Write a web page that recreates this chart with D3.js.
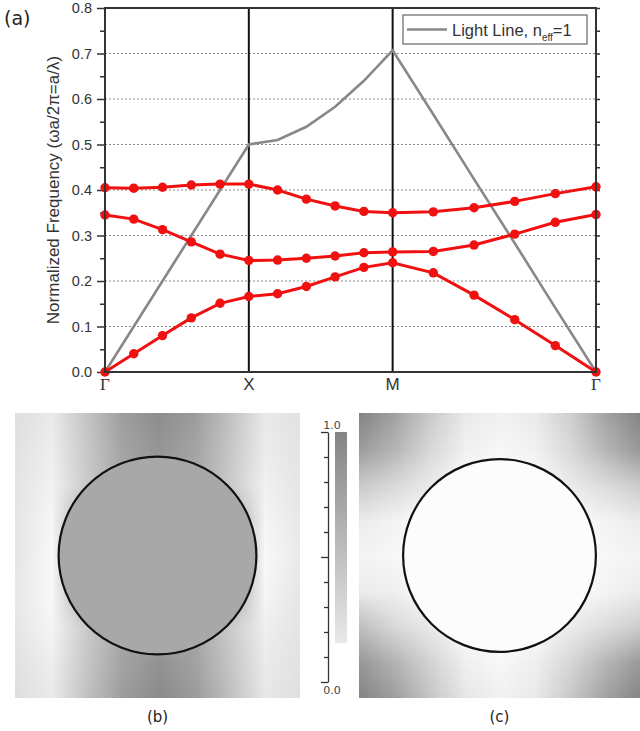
<!DOCTYPE html>
<html>
<head>
<meta charset="utf-8">
<script src="https://cdn.jsdelivr.net/npm/d3@7"></script>
<style>
  body { margin: 0; background: #fff; }
  svg { display: block; }
</style>
</head>
<body>
<svg id="fig" width="640" height="731"></svg>
<script>
// k-path positions (Γ -> X -> M -> Γ) and the computed bands
const kPos = [0, 0.2, 0.4, 0.6, 0.8, 1, 1.2, 1.4, 1.6, 1.8, 2, 2.283, 2.566, 2.849, 3.131, 3.414];
const band1 = [0, 0.040, 0.080, 0.119, 0.151, 0.166, 0.172, 0.188, 0.209, 0.230, 0.240, 0.218, 0.169, 0.115, 0.058, 0];
const band2 = [0.345, 0.336, 0.313, 0.286, 0.259, 0.245, 0.246, 0.250, 0.255, 0.262, 0.264, 0.265, 0.279, 0.303, 0.329, 0.346];
const band3 = [0.405, 0.404, 0.406, 0.411, 0.413, 0.413, 0.400, 0.380, 0.365, 0.353, 0.350, 0.352, 0.361, 0.375, 0.392, 0.407];
const lightLine = [0, 0.1, 0.2, 0.3, 0.4, 0.5, 0.51, 0.539, 0.583, 0.640, 0.707, 0.566, 0.424, 0.283, 0.141, 0];
const symPos = [0, 1, 2, 3.414];
const symLabels = ["Γ", "X", "M", "Γ"];
const yTicks = [0, 0.1, 0.2, 0.3, 0.4, 0.5, 0.6, 0.7, 0.8];
const gridTicks = [0.1, 0.2, 0.3, 0.4, 0.5, 0.6, 0.7];

// field intensity maps, 9x9 samples over the unit cell (row = top to bottom)
const fieldB = [
  [0.24, 0.15, 0.47, 0.78, 0.92, 0.80, 0.49, 0.15, 0.22],
  [0.22, 0.12, 0.43, 0.73, 0.86, 0.74, 0.45, 0.13, 0.20],
  [0.20, 0.08, 0.42, 0.72, 0.72, 0.72, 0.42, 0.09, 0.19],
  [0.18, 0.05, 0.75, 0.72, 0.72, 0.72, 0.75, 0.06, 0.17],
  [0.18, 0.03, 0.75, 0.72, 0.72, 0.72, 0.75, 0.03, 0.15],
  [0.16, 0.03, 0.75, 0.72, 0.72, 0.72, 0.75, 0.05, 0.18],
  [0.18, 0.06, 0.42, 0.72, 0.72, 0.72, 0.42, 0.11, 0.20],
  [0.22, 0.12, 0.45, 0.74, 0.88, 0.76, 0.46, 0.14, 0.22],
  [0.25, 0.15, 0.49, 0.80, 0.95, 0.82, 0.51, 0.17, 0.24]
];
const fieldC = [
  [1.00, 0.75, 0.42, 0.16, 0.09, 0.15, 0.38, 0.74, 1.00],
  [0.80, 0.58, 0.30, 0.09, 0.03, 0.09, 0.29, 0.58, 0.84],
  [0.42, 0.29, 0.14, 0.00, 0.00, 0.00, 0.14, 0.27, 0.42],
  [0.14, 0.07, 0.00, 0.00, 0.00, 0.00, 0.00, 0.07, 0.14],
  [0.07, 0.03, 0.00, 0.00, 0.00, 0.00, 0.00, 0.03, 0.07],
  [0.14, 0.10, 0.00, 0.00, 0.00, 0.00, 0.00, 0.07, 0.14],
  [0.52, 0.30, 0.16, 0.00, 0.00, 0.00, 0.14, 0.27, 0.40],
  [0.84, 0.61, 0.34, 0.11, 0.03, 0.11, 0.32, 0.58, 0.83],
  [1.00, 0.78, 0.46, 0.18, 0.09, 0.16, 0.43, 0.76, 1.00]
];
const coreB = 0.70, coreC = 0.0;
const radiusB = 0.347, radiusC = 0.343;
const barTicks = [0, 0.1, 0.2, 0.3, 0.4, 0.5, 0.6, 0.7, 0.8, 0.9, 1.0];
const barRange = [0.155, 1.0];

const svg = d3.select("#fig");

// ---------- (a) band diagram ----------
const x = d3.scaleLinear().domain([0, 3.414]).range([105, 596]);
const y = d3.scaleLinear().domain([0, 0.8]).range([372, 8]);

svg.append("text").attr("x", 4).attr("y", 25)
  .attr("font-family", "DejaVu Sans").attr("font-size", 19).attr("fill", "#222")
  .text("(a)");

// dotted grid
svg.append("g").selectAll("line").data(gridTicks).enter().append("line")
  .attr("x1", x(0)).attr("x2", x(3.414))
  .attr("y1", d => y(d)).attr("y2", d => y(d))
  .attr("stroke", "#888").attr("stroke-width", 1).attr("stroke-dasharray", "2,2");

// left axis
const yLeft = d3.axisLeft(y).tickValues(yTicks).tickFormat(d3.format(".1f")).tickSize(8).tickPadding(5);
const gl = svg.append("g").attr("transform", `translate(${x(0)},0)`).call(yLeft);
gl.select(".domain").remove();
gl.selectAll("line").attr("stroke", "#333").attr("stroke-width", 1.5);
gl.selectAll("text").attr("font-family", "Liberation Sans, Arial").attr("font-size", 14.5).attr("fill", "#333");
const minor = d3.range(0.05, 0.8, 0.1);
svg.append("g").attr("transform", `translate(${x(0)},0)`)
  .call(d3.axisLeft(y).tickValues(minor).tickFormat("").tickSize(5))
  .call(g => g.select(".domain").remove())
  .selectAll("line").attr("stroke", "#333").attr("stroke-width", 1.5);

// right axis ticks
svg.append("g").attr("transform", `translate(${x(3.414)},0)`)
  .call(d3.axisRight(y).tickValues(yTicks.concat(minor)).tickFormat("").tickSize(4))
  .call(g => g.select(".domain").remove())
  .selectAll("line").attr("stroke", "#333").attr("stroke-width", 1.5);

// y label
svg.append("text")
  .attr("transform", `translate(59,${(y(0) + y(0.8)) / 2}) rotate(-90)`)
  .attr("text-anchor", "middle")
  .attr("font-family", "Liberation Sans, Arial").attr("font-size", 17).attr("fill", "#333")
  .text("Normalized Frequency (ωa/2π=a/λ)");

// symmetry point lines
svg.append("g").selectAll("line").data(symPos.slice(1, 3)).enter().append("line")
  .attr("x1", d => x(d)).attr("x2", d => x(d)).attr("y1", y(0.8)).attr("y2", y(0))
  .attr("stroke", "#111").attr("stroke-width", 2);

// light line
const pts = arr => arr.map((v, i) => [kPos[i], v]);
const line = d3.line().x(d => x(d[0])).y(d => y(d[1]));
svg.append("path").datum(pts(lightLine)).attr("d", line)
  .attr("fill", "none").attr("stroke", "#888").attr("stroke-width", 2.6);

// bands
[band1, band2, band3].forEach(b => {
  svg.append("path").datum(pts(b)).attr("d", line)
    .attr("fill", "none").attr("stroke", "#f01010").attr("stroke-width", 3);
  svg.append("g").selectAll("circle").data(pts(b)).enter().append("circle")
    .attr("cx", d => x(d[0])).attr("cy", d => y(d[1])).attr("r", 4.7)
    .attr("fill", "#f01010");
});

// frame
svg.append("rect").attr("x", x(0)).attr("y", y(0.8))
  .attr("width", x(3.414) - x(0)).attr("height", y(0) - y(0.8))
  .attr("fill", "none").attr("stroke", "#333").attr("stroke-width", 2);

// x labels
svg.append("g").selectAll("text").data(symPos).enter().append("text")
  .attr("x", d => x(d)).attr("y", 390).attr("text-anchor", "middle")
  .attr("font-family", (d, i) => symLabels[i] === "Γ" ? "Liberation Serif" : "Liberation Sans, Arial")
  .attr("font-size", 17).attr("fill", "#333")
  .text((d, i) => symLabels[i]);

// legend
const lg = svg.append("g");
lg.append("rect").attr("x", 403).attr("y", 15).attr("width", 184).attr("height", 29)
  .attr("fill", "#fff").attr("stroke", "#666").attr("stroke-width", 1.2);
lg.append("line").attr("x1", 407).attr("x2", 447).attr("y1", 29.5).attr("y2", 29.5)
  .attr("stroke", "#888").attr("stroke-width", 2.4);
const lt = lg.append("text").attr("x", 452).attr("y", 36)
  .attr("font-family", "Liberation Sans, Arial").attr("font-size", 16.5).attr("fill", "#333");
lt.append("tspan").text("Light Line, n");
lt.append("tspan").attr("font-size", 10).attr("dy", 5).text("eff");
lt.append("tspan").attr("dy", -5).text("=1");

// ---------- (b), (c) field maps ----------
const shade = d3.scaleLinear().domain([0, 1]).range(["#fcfcfc", "#848484"]);

function fieldMap(grid, core, radius, x0, y0, w, h, id, label) {
  const n = grid.length;
  const cv = document.createElement("canvas");
  cv.width = n; cv.height = n;
  const ctx = cv.getContext("2d");
  const img = ctx.createImageData(n, n);
  grid.forEach((row, r) => row.forEach((v, c) => {
    const col = d3.rgb(shade(v));
    const k = (r * n + c) * 4;
    img.data[k] = col.r; img.data[k + 1] = col.g; img.data[k + 2] = col.b; img.data[k + 3] = 255;
  }));
  ctx.putImageData(img, 0, 0);

  const fx = d3.scaleLinear().domain([0, 1]).range([x0, x0 + w]);
  const fy = d3.scaleLinear().domain([0, 1]).range([y0, y0 + h]);
  const cw = w / (n - 1), ch = h / (n - 1);

  svg.append("clipPath").attr("id", id).append("rect")
    .attr("x", x0).attr("y", y0).attr("width", w).attr("height", h);
  svg.append("image").attr("clip-path", `url(#${id})`)
    .attr("href", cv.toDataURL())
    .attr("x", x0 - cw / 2).attr("y", y0 - ch / 2)
    .attr("width", cw * n).attr("height", ch * n)
    .attr("preserveAspectRatio", "none");
  svg.append("circle")
    .attr("cx", fx(0.5)).attr("cy", fy(0.5)).attr("r", fx(radius) - fx(0))
    .attr("fill", shade(core)).attr("stroke", "#111").attr("stroke-width", 2.2);
  svg.append("text").attr("x", fx(0.5)).attr("y", 722).attr("text-anchor", "middle")
    .attr("font-family", "DejaVu Sans").attr("font-size", 15).attr("fill", "#222")
    .text(label);
}

fieldMap(fieldB, coreB, radiusB, 15, 413, 285, 285, "clipB", "(b)");
fieldMap(fieldC, coreC, radiusC, 359, 413, 281, 285, "clipC", "(c)");

// colour bar
const cb = d3.scaleLinear().domain([0, 1]).range([682, 432]);
const defs = svg.append("defs");
const grad = defs.append("linearGradient").attr("id", "cbar")
  .attr("x1", 0).attr("y1", 1).attr("x2", 0).attr("y2", 0);
grad.append("stop").attr("offset", 0).attr("stop-color", shade(barRange[0]));
grad.append("stop").attr("offset", 1).attr("stop-color", shade(barRange[1]));
svg.append("rect").attr("x", 335).attr("y", cb(barRange[1]))
  .attr("width", 12).attr("height", cb(barRange[0]) - cb(barRange[1]))
  .attr("fill", "url(#cbar)");
const gcb = svg.append("g").attr("transform", "translate(328,0)")
  .call(d3.axisLeft(cb).tickValues(barTicks).tickFormat("")
    .tickSize(4).tickSizeOuter(0));
gcb.selectAll(".tick line").attr("x2", d => (d === 0 || d === 0.5 || d === 1) ? -7 : -4);
gcb.selectAll("line, path").attr("stroke", "#333").attr("stroke-width", 1.3);
svg.append("g").selectAll("text").data([0, 1]).enter().append("text")
  .attr("x", 332).attr("y", d => d === 1 ? cb(d) - 3 : cb(d) + 12)
  .attr("text-anchor", "middle")
  .attr("font-family", "DejaVu Sans").attr("font-size", 11).attr("fill", "#444")
  .text(d => d3.format(".1f")(d));
</script>
</body>
</html>
